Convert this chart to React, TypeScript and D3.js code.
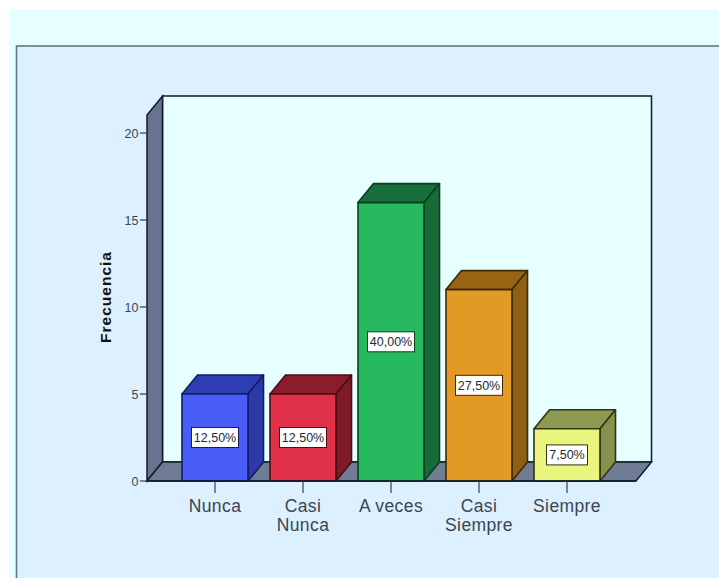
import React from "react";
import * as d3 from "d3";

const categories = ["Nunca", "Casi Nunca", "A veces", "Casi Siempre", "Siempre"];
const frequencies = [5, 5, 16, 11, 3];
const percentLabels = ["12,50%", "12,50%", "40,00%", "27,50%", "7,50%"];
const yTicks = [0, 5, 10, 15, 20];
const frontColors = ["#4a5cf8", "#e03148", "#26b95e", "#e39a24", "#e9f57c"];
const topColors = ["#2f3db3", "#8a1c2b", "#186f3b", "#976414", "#8e9952"];
const sideColors = ["#2c3aa8", "#7f1a28", "#176b38", "#8f5f13", "#87924e"];
const edgeColors = ["#141c66", "#4a0e16", "#0c3f20", "#3f2a06", "#2f3415"];

const WIDTH = 719;
const HEIGHT = 578;
const DEPTH_X = 15.5;
const DEPTH_Y = 19;
const FONT = "'Liberation Sans', Arial, sans-serif";

const y = d3.scaleLinear().domain([0, 20]).range([481, 133]);
const x = d3
  .scaleBand<string>()
  .domain(categories)
  .range([171, 611])
  .paddingInner(0.25)
  .paddingOuter(0.125);

const poly = (pts: [number, number][]) => {
  const path = d3.path();
  pts.forEach(([a, b], i) => (i ? path.lineTo(a, b) : path.moveTo(a, b)));
  path.closePath();
  return path.toString();
};

export default function App() {
  const left = 147;
  const right = 636;
  const floorY = y(0);
  const wallTop = 115;

  return (
    <svg
      width={WIDTH}
      height={HEIGHT}
      viewBox={`0 0 ${WIDTH} ${HEIGHT}`}
      style={{ position: "absolute", left: 0, top: 0, fontFamily: FONT }}
    >
      {/* page and chart panels */}
      <rect width={WIDTH} height={HEIGHT} fill="#ffffff" />
      <rect x={9} y={9} width={WIDTH - 9} height={HEIGHT - 9} fill="#e6ffff" />
      <rect x={16.5} y={46} width={WIDTH} height={HEIGHT} fill="#dcf0ff" stroke="#5f7a82" strokeWidth={1.6} />

      {/* three-dimensional plot box */}
      <path
        d={poly([
          [left + DEPTH_X, wallTop - DEPTH_Y],
          [right + DEPTH_X, wallTop - DEPTH_Y],
          [right + DEPTH_X, floorY - DEPTH_Y],
          [left + DEPTH_X, floorY - DEPTH_Y],
        ])}
        fill="#e6ffff"
        stroke="#111a2a"
        strokeWidth={1.5}
      />
      <path
        d={poly([
          [left, wallTop],
          [left + DEPTH_X, wallTop - DEPTH_Y],
          [left + DEPTH_X, floorY - DEPTH_Y],
          [left, floorY],
        ])}
        fill="#68738f"
        stroke="#111a2a"
        strokeWidth={1.5}
      />
      <path
        d={poly([
          [left, floorY],
          [left + DEPTH_X, floorY - DEPTH_Y],
          [right + DEPTH_X, floorY - DEPTH_Y],
          [right, floorY],
        ])}
        fill="#6f7c94"
        stroke="#111a2a"
        strokeWidth={1.5}
      />

      {/* value axis */}
      {yTicks.map((t) => (
        <g key={t}>
          <line x1={left - 7} x2={left} y1={y(t)} y2={y(t)} stroke="#333b48" strokeWidth={1.2} />
          <text x={left - 8.5} y={y(t) + 4.5} textAnchor="end" fontSize={12.5} fill="#3c4450">
            {t}
          </text>
        </g>
      ))}
      <text
        transform="translate(110.5,297) rotate(-90)"
        textAnchor="middle"
        fontSize={15.5}
        letterSpacing={1}
        fontWeight="bold"
        fill="#111"
      >
        Frecuencia
      </text>

      {/* extruded bars */}
      {categories.map((c, i) => {
        const x0 = x(c)!;
        const x1 = x0 + x.bandwidth();
        const top = y(frequencies[i]);
        const stroke = edgeColors[i];
        return (
          <g key={c} stroke={stroke} strokeWidth={1.6} strokeLinejoin="round">
            <path
              d={poly([
                [x0, top],
                [x0 + DEPTH_X, top - DEPTH_Y],
                [x1 + DEPTH_X, top - DEPTH_Y],
                [x1, top],
              ])}
              fill={topColors[i]}
            />
            <path
              d={poly([
                [x1, top],
                [x1 + DEPTH_X, top - DEPTH_Y],
                [x1 + DEPTH_X, floorY - DEPTH_Y],
                [x1, floorY],
              ])}
              fill={sideColors[i]}
            />
            <rect x={x0} y={top} width={x.bandwidth()} height={floorY - top} fill={frontColors[i]} />
          </g>
        );
      })}

      {/* floor front edge drawn over the bar bases */}
      <line x1={left} x2={right} y1={floorY} y2={floorY} stroke="#111a2a" strokeWidth={1.5} />

      {/* percentage labels */}
      {categories.map((c, i) => {
        const cx = x(c)! + x.bandwidth() / 2;
        const cy = (y(frequencies[i]) + floorY) / 2;
        const boxW = percentLabels[i].length > 5 ? 47 : 41;
        return (
          <g key={c}>
            <rect
              x={cx - boxW / 2}
              y={cy - 10}
              width={boxW}
              height={20}
              fill="#ffffff"
              stroke={edgeColors[i]}
              strokeWidth={1}
            />
            <text x={cx} y={cy + 4.5} textAnchor="middle" fontSize={12.5} fill="#222a33">
              {percentLabels[i]}
            </text>
          </g>
        );
      })}

      {/* category axis, long names wrap onto two lines */}
      {categories.map((c) => {
        const cx = x(c)! + x.bandwidth() / 2;
        const lines = c === "A veces" ? [c] : c.split(" ");
        return (
          <g key={c}>
            <line x1={cx} x2={cx} y1={floorY} y2={493} stroke="#333b48" strokeWidth={1.2} />
            <text textAnchor="middle" fontSize={17.5} letterSpacing={0.4} fill="#3c4450">
              {lines.map((l, j) => (
                <tspan key={l} x={cx} y={512 + j * 18.5}>
                  {l}
                </tspan>
              ))}
            </text>
          </g>
        );
      })}
    </svg>
  );
}
